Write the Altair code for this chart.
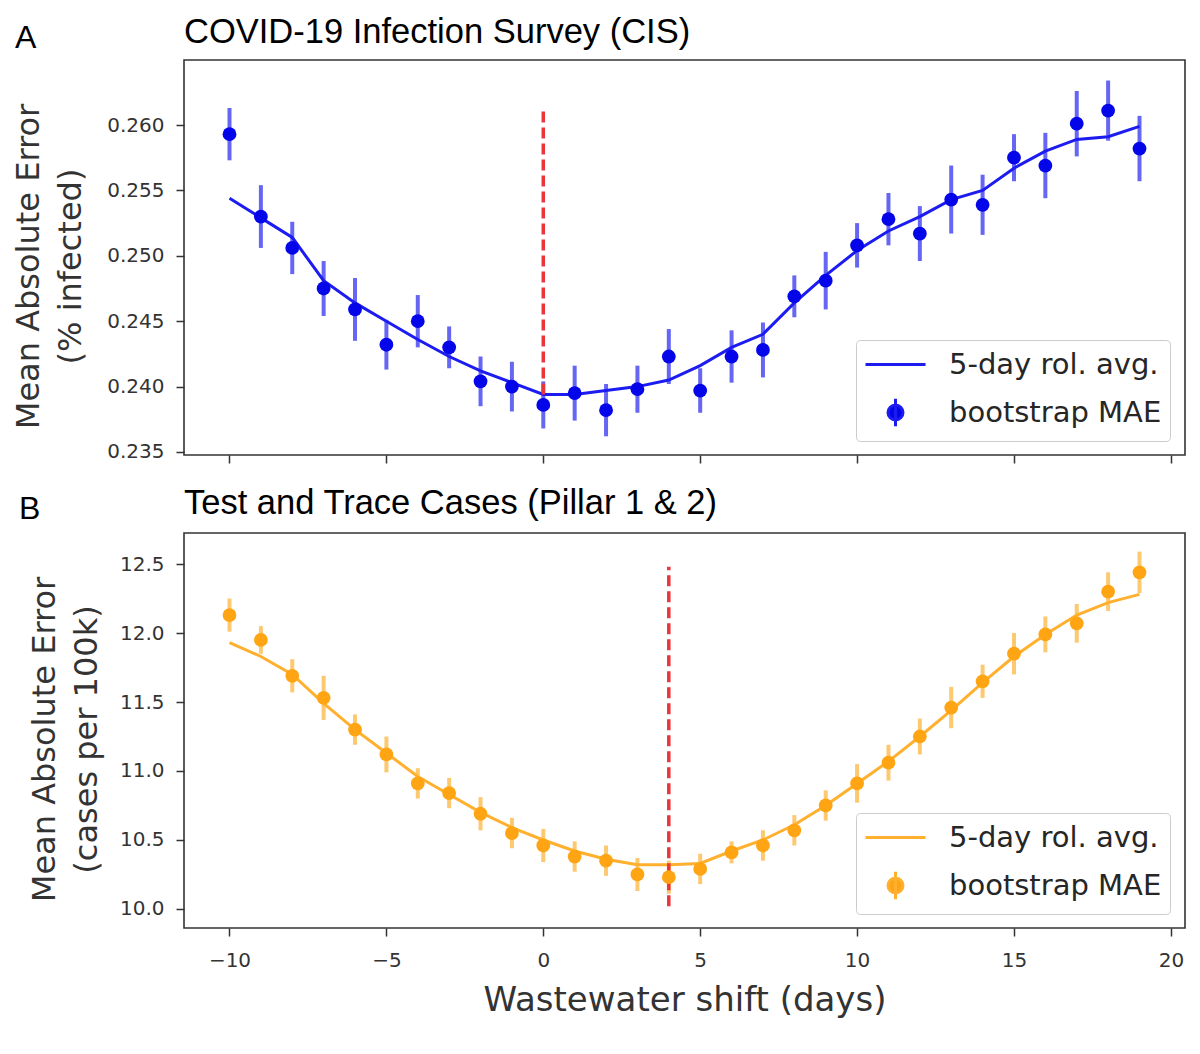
import altair as alt
import pandas as pd

# Wastewater shift in days (x axis, shared by both panels).
shift = list(range(-10, 20))

# Panel A: COVID-19 Infection Survey, mean absolute error (% infected).
cis_mae = [0.2593, 0.2530, 0.2506, 0.2475, 0.2459, 0.2432, 0.2450, 0.2430, 0.2404, 0.2400,
           0.2386, 0.2395, 0.2382, 0.2398, 0.2423, 0.2397, 0.2423, 0.2428, 0.2469, 0.2481,
           0.2508, 0.2528, 0.2517, 0.2543, 0.2539, 0.2575, 0.2569, 0.2601, 0.2611, 0.2582]
cis_err = [0.0020, 0.0024, 0.0020, 0.0021, 0.0024, 0.0019, 0.0020, 0.0016, 0.0019, 0.0019,
           0.0018, 0.0021, 0.0020, 0.0018, 0.0021, 0.0017, 0.0020, 0.0021, 0.0016, 0.0022,
           0.0017, 0.0020, 0.0021, 0.0026, 0.0023, 0.0018, 0.0025, 0.0025, 0.0023, 0.0025]
cis_roll = [0.2544, 0.2529, 0.2514, 0.2481, 0.2464, 0.2450, 0.2436, 0.2423, 0.2412, 0.2403,
            0.2394, 0.2394, 0.2397, 0.2400, 0.2405, 0.2416, 0.2430, 0.2440, 0.2464, 0.2485,
            0.2504, 0.2519, 0.2530, 0.2543, 0.2550, 0.2567, 0.2580, 0.2589, 0.2591, 0.2599]
cis_best = 0
cis_best_span = [0.2394, 0.2612]
cis_ticks = [0.235, 0.240, 0.245, 0.250, 0.255, 0.260]

# Panel B: Test and Trace cases, mean absolute error (cases per 100k).
tt_mae = [12.13, 11.95, 11.69, 11.53, 11.30, 11.12, 10.91, 10.84, 10.69, 10.55,
          10.46, 10.38, 10.35, 10.25, 10.23, 10.29, 10.41, 10.46, 10.57, 10.75,
          10.91, 11.06, 11.25, 11.46, 11.65, 11.85, 11.99, 12.07, 12.30, 12.44]
tt_err = [0.12, 0.10, 0.12, 0.16, 0.11, 0.13, 0.11, 0.11, 0.12, 0.11,
          0.12, 0.11, 0.11, 0.12, 0.12, 0.11, 0.08, 0.11, 0.11, 0.11,
          0.14, 0.13, 0.13, 0.15, 0.12, 0.15, 0.13, 0.14, 0.14, 0.15]
tt_roll = [11.93, 11.83, 11.70, 11.49, 11.30, 11.13, 10.96, 10.83, 10.70, 10.59,
           10.50, 10.42, 10.36, 10.32, 10.32, 10.33, 10.42, 10.50, 10.61, 10.75,
           10.91, 11.07, 11.25, 11.44, 11.64, 11.83, 11.99, 12.13, 12.22, 12.28]
tt_best = 4
tt_best_span = [10.02, 12.48]
tt_ticks = [10.0, 10.5, 11.0, 11.5, 12.0, 12.5]

x_ticks = [-10, -5, 0, 5, 10, 15, 20]
series = ["5-day rol. avg.", "bootstrap MAE"]

AXIS_FONT = "DejaVu Sans"
TITLE_FONT = "Liberation Sans"
# legend glyphs: a plain line, and a dot with an error bar through it
LINE_PATH = "M-2,0H2"
DOT_PATH = "M0,-0.92V0.92M-0.5,0A0.5,0.5 0 1,1 0.5,0A0.5,0.5 0 1,1 -0.5,0Z"


def panel(mae, err, roll, best, best_span, y_ticks, y_fmt, y_domain, y_title, title_pad,
          title, letter, letter_xy, dot_color, bar_color, line_color, bottom):
    df = pd.DataFrame({"shift": shift, "mae": mae, "lo": [m - e for m, e in zip(mae, err)],
                       "hi": [m + e for m, e in zip(mae, err)], "roll": roll})

    x_axis = alt.Axis(values=x_ticks, labels=bottom, title="Wastewater shift (days)" if bottom else None,
                      tickSize=8, tickWidth=1.5, tickColor="#333", domain=False, grid=False,
                      labelFont=AXIS_FONT, labelFontSize=20, labelColor="#333", labelPadding=14,
                      titleFont=AXIS_FONT, titleFontSize=34, titleFontWeight="normal",
                      titleColor="#333", titlePadding=13)
    x_enc = alt.X("shift:Q", axis=x_axis, scale=alt.Scale(domain=[-11.45, 20.45], nice=False, zero=False))
    y_axis = alt.Axis(values=y_ticks, format=y_fmt, title=y_title,
                      tickSize=8, tickWidth=1.5, tickColor="#333", domain=False, grid=False,
                      labelFont=AXIS_FONT, labelFontSize=20, labelColor="#333", labelPadding=12,
                      titleFont=AXIS_FONT, titleFontSize=32, titleFontWeight="normal",
                      titleColor="#333", titleLineHeight=42, titlePadding=title_pad, titleY=206)
    y_scale = alt.Scale(domain=y_domain, nice=False, zero=False)

    base = alt.Chart(df)
    bars = base.mark_rule(strokeWidth=4, color=bar_color).encode(
        x=x_enc, y=alt.Y("lo:Q", axis=y_axis, scale=y_scale), y2="hi:Q")
    dots = base.mark_circle(size=190, opacity=1, color=dot_color).encode(x="shift:Q", y="mae:Q")
    line = base.mark_line(strokeWidth=3, color=line_color).encode(x="shift:Q", y="roll:Q")

    vline_df = pd.DataFrame({"shift": [best], "y0": [best_span[0]], "y1": [best_span[1]]})
    vline = alt.Chart(vline_df).mark_rule(color="#e8363c", strokeWidth=3.5, strokeDash=[11, 5]).encode(
        x="shift:Q", y="y0:Q", y2="y1:Q")

    # legend carrier: zero-size points, one per series, only there to build the legend
    key_df = pd.DataFrame({"series": series, "shift": [shift[0]] * 2, "mae": [mae[0]] * 2})
    key = alt.Chart(key_df).mark_point(size=0, filled=True, stroke=line_color, strokeWidth=3).encode(
        x="shift:Q", y="mae:Q",
        color=alt.Color("series:N", scale=alt.Scale(domain=series, range=[line_color, dot_color]),
                        legend=alt.Legend(title=None)),
        shape=alt.Shape("series:N", scale=alt.Scale(domain=series, range=[LINE_PATH, DOT_PATH]),
                        legend=alt.Legend(title=None)),
    )

    tag = alt.Chart(pd.DataFrame({"letter": [letter]})).mark_text(
        font=TITLE_FONT, fontSize=32, align="left", baseline="alphabetic", color="black").encode(
        x=alt.value(letter_xy[0]), y=alt.value(letter_xy[1]), text="letter:N")

    return alt.layer(bars, line, vline, dots, key, tag).properties(
        width=1001, height=395,
        title=alt.TitleParams(title, anchor="start", frame="group", font=TITLE_FONT,
                              fontSize=34.5, fontWeight="normal", color="black", offset=-28),
    )


top = panel(cis_mae, cis_err, cis_roll, cis_best, cis_best_span, cis_ticks, ".3f",
            [0.23477, 0.26497], ["Mean Absolute Error", "(% infected)"], 19,
            "COVID-19 Infection Survey (CIS)", "A", (-169, -12),
            "#0505ea", "#6666f5", "#1c1cf0", bottom=False)
bottom = panel(tt_mae, tt_err, tt_roll, tt_best, tt_best_span, tt_ticks, ".1f",
               [9.862, 12.725], ["Mean Absolute Error", "(cases per 100k)"], 16,
               "Test and Trace Cases (Pillar 1 & 2)", "B", (-165, -14),
               "#ffa514", "#fcc870", "#ffb02e", bottom=True)

chart = alt.vconcat(top, bottom, spacing=78).properties(
    bounds="flush", background="white",
    padding={"left": 3, "top": 5, "right": 5, "bottom": 5},
).resolve_scale(
    color="independent", shape="independent"
).configure_view(
    stroke="#333", strokeWidth=1.6
).configure_legend(
    orient="none", legendX=672, legendY=280, padding=8, rowPadding=12,
    labelFont=AXIS_FONT, labelFontSize=29, labelColor="#262626", labelOffset=37, labelLimit=400,
    symbolSize=900, symbolOffset=15, symbolStrokeWidth=3, symbolOpacity=1,
    strokeColor="#cccccc", fillColor="white", cornerRadius=4,
)

chart.save("out.html", embed_options={"renderer": "svg", "actions": False})
